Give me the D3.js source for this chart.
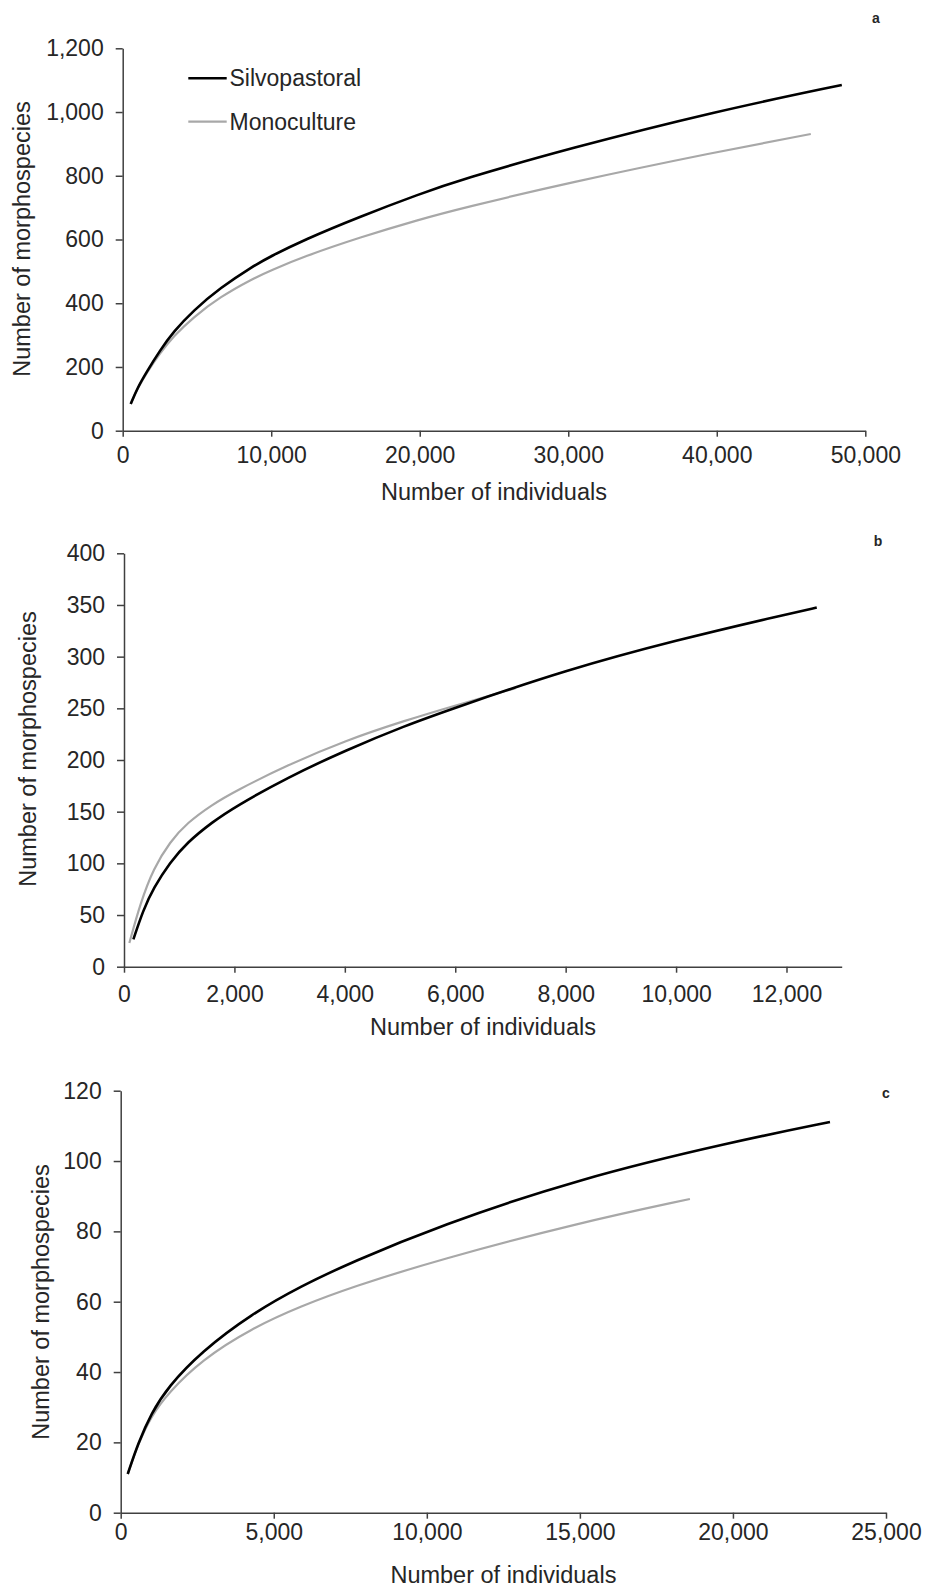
<!DOCTYPE html>
<html>
<head>
<meta charset="utf-8">
<script src="https://cdn.jsdelivr.net/npm/d3@7"></script>
<style>
  html, body { margin: 0; padding: 0; background: #fff; }
  svg { display: block; }
  text { font-family: "Liberation Sans", Arial, sans-serif; fill: #262626; }
</style>
</head>
<body>
<svg id="chart" width="928" height="1592"></svg>
<script>
// ---------- data ----------
const seriesNames = ["Silvopastoral", "Monoculture"];
const panelLabels = ["a", "b", "c"];

// Panel a
const silvoA = [[539,84],[1000,135],[1616,185],[2512,252],[3407,310],[4754,377],[6552,448],[8795,517],[9919,546],[12162,598],[15980,672],[20000,743],[22714,787],[30000,885],[40000,1003],[48418,1085]];
const monoA  = [[539,84],[1000,133],[1616,182],[2512,243],[3407,296],[4754,356],[6552,420],[8795,478],[9919,502],[12162,546],[15980,607],[20000,663],[22714,697],[30000,778],[40000,875],[46330,931]];
const xTicksA = [0,10000,20000,30000,40000,50000];
const yTicksA = [0,200,400,600,800,1000,1200];

// Panel b
const silvoB = [[170,26.5],[350,55],[533,76],[836,101],[1139,120],[1600,140],[2018,155],[2958,183],[4018,209.5],[5079,233],[6018,251],[8000,287],[10000,316],[12000,341],[12548,347.5]];
const monoB  = [[97,23],[300,62],[533,95],[836,121],[1139,139],[1600,157],[2018,170],[2958,195],[4018,219],[5079,238],[6018,253],[7090,269.5]];
const xTicksB = [0,2000,4000,6000,8000,10000,12000];
const yTicksB = [0,50,100,150,200,250,300,350,400];

// Panel c
const silvoC = [[230,11],[565,19.7],[1000,28.3],[1546,35.8],[2634,45.8],[4268,56.5],[5902,64.5],[7536,71.2],[10369,81.5],[15000,95.1],[20000,105.5],[23170,111.1]];
const monoC  = [[230,11],[565,19.5],[1000,27.5],[1546,34],[2634,43.4],[4268,52.4],[5902,58.8],[7536,64.1],[10369,71.9],[15000,82.5],[18595,89.2]];
const xTicksC = [0,5000,10000,15000,20000,25000];
const yTicksC = [0,20,40,60,80,100,120];

const xTitle = "Number of individuals";
const yTitle = "Number of morphospecies";

// ---------- layout ----------
const panels = [
  { silvo: silvoA, mono: monoA, xTicks: xTicksA, yTicks: yTicksA, xMax: 50000, yMax: 1200,
    x0: 122.7, x1: 865.3, y0: 430.7, y1: 48.3, xPad: 10, yTitlePos: [30, 239], xTitlePos: [494, 500], labelPos: [876, 23] },
  { silvo: silvoB, mono: monoB, xTicks: xTicksB, yTicks: yTicksB, xMax: 13000, yMax: 400,
    x0: 124, x1: 841.7, y0: 966.7, y1: 553.3, xPad: 13, yTitlePos: [36, 749], xTitlePos: [483, 1035], labelPos: [878, 546] },
  { silvo: silvoC, mono: monoC, xTicks: xTicksC, yTicks: yTicksC, xMax: 25000, yMax: 120,
    x0: 120.7, x1: 886, y0: 1512.7, y1: 1090.7, xPad: 5, yTitlePos: [48.5, 1302], xTitlePos: [503.4, 1583], labelPos: [886, 1098] }
];

const colors = { Silvopastoral: "#000000", Monoculture: "#a8a8a8" };
const widths = { Silvopastoral: 2.6, Monoculture: 2.2 };
const fmt = d3.format(",");

const svg = d3.select("#chart");

panels.forEach((p, i) => {
  const x = d3.scaleLinear().domain([0, p.xMax]).range([p.x0, p.x1]);
  const y = d3.scaleLinear().domain([0, p.yMax]).range([p.y0, p.y1]);

  const g = svg.append("g");

  const xAxis = d3.axisBottom(x).tickValues(p.xTicks).tickFormat(fmt)
    .tickSize(6).tickSizeOuter(0).tickPadding(p.xPad);
  const yAxis = d3.axisLeft(y).tickValues(p.yTicks).tickFormat(fmt)
    .tickSize(7).tickSizeOuter(0).tickPadding(12);

  const gx = g.append("g").attr("transform", `translate(0,${p.y0})`).call(xAxis);
  const gy = g.append("g").attr("transform", `translate(${p.x0},0)`).call(yAxis);

  [gx, gy].forEach(ax => {
    ax.select(".domain").attr("stroke", "#404040").attr("stroke-width", 1.5);
    ax.selectAll(".tick line").attr("stroke", "#404040").attr("stroke-width", 1.5);
    ax.selectAll(".tick text").attr("font-size", 23).attr("fill", "#262626")
      .attr("font-family", '"Liberation Sans", Arial, sans-serif');
  });

  const line = d3.line().x(d => x(d[0])).y(d => y(d[1])).curve(d3.curveBasis);

  g.append("path").datum(p.mono)
    .attr("fill", "none").attr("stroke", colors.Monoculture)
    .attr("stroke-width", widths.Monoculture).attr("d", line);
  g.append("path").datum(p.silvo)
    .attr("fill", "none").attr("stroke", colors.Silvopastoral)
    .attr("stroke-width", widths.Silvopastoral).attr("d", line);

  g.append("text")
    .attr("transform", `translate(${p.yTitlePos[0]},${p.yTitlePos[1]}) rotate(-90)`)
    .attr("text-anchor", "middle").attr("font-size", 23.5).text(yTitle);

  g.append("text")
    .attr("x", p.xTitlePos[0]).attr("y", p.xTitlePos[1])
    .attr("text-anchor", "middle").attr("font-size", 23.5).text(xTitle);

  g.append("text")
    .attr("x", p.labelPos[0]).attr("y", p.labelPos[1])
    .attr("text-anchor", "middle").attr("font-size", 14).attr("font-weight", "bold")
    .text(panelLabels[i]);
});

// ---------- legend (panel a) ----------
const legend = svg.append("g");
seriesNames.forEach((name, k) => {
  const ly = 78.3 + k * 43.4;
  legend.append("line")
    .attr("x1", 188.3).attr("x2", 226.7).attr("y1", ly).attr("y2", ly)
    .attr("stroke", colors[name]).attr("stroke-width", widths[name]);
  legend.append("text")
    .attr("x", 229.5).attr("y", ly + 8)
    .attr("font-size", 23).text(name);
});
</script>
</body>
</html>
